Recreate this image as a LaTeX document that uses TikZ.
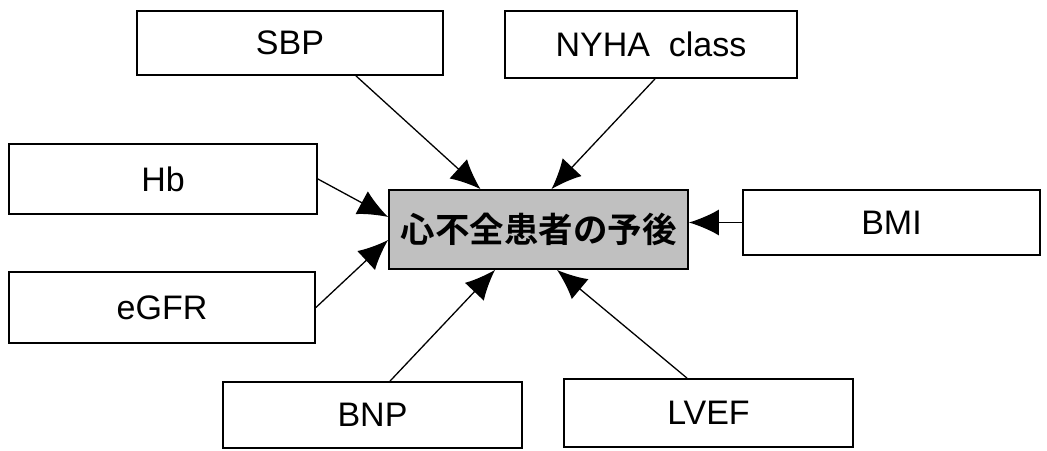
\documentclass[tikz,border=0pt]{standalone}
\usepackage{fontspec}
\setmainfont{Liberation Sans}
\newfontfamily\jpfont{Noto Sans CJK JP}[BoldFont={* Bold}]
\usetikzlibrary{arrows.meta}
\definecolor{boxgray}{RGB}{192,192,192}
\tikzset{
  box/.style={draw=black, line width=1.8pt, fill=white, inner sep=0pt, font=\fontsize{34}{38}\selectfont},
  centerbox/.style={box, fill=boxgray, font=\jpfont\bfseries\fontsize{34.5}{40}\selectfont},
  arr/.style={line width=1.3pt, -{Latex[length=30pt,width=26pt]}, shorten >=0pt}
}
\begin{document}
\begin{tikzpicture}[x=1pt,y=-1pt]
\useasboundingbox (0,0) rectangle (1047,450);
\node[box, minimum width=306pt, minimum height=64pt] (sbp) at (290,43) {SBP};
\node[box, minimum width=292pt, minimum height=67pt] (nyha) at (651,44.5) {NYHA\ \ class};
\node[box, minimum width=308pt, minimum height=70pt] (hb) at (163,179) {Hb};
\node[centerbox, minimum width=299pt, minimum height=79pt] (c) at (538.5,229.5) {心不全患者の予後};
\node[box, minimum width=297pt, minimum height=65pt] (bmi) at (891.5,222.5) {BMI};
\node[box, minimum width=306pt, minimum height=71pt] (egfr) at (162,307.5) {eGFR};
\node[box, minimum width=299pt, minimum height=66pt] (bnp) at (372.5,415) {BNP};
\node[box, minimum width=289pt, minimum height=68pt] (lvef) at (708.5,413) {LVEF};
\draw[arr] ([xshift=66pt]sbp.south) -- ([xshift=-58pt]c.north);
\draw[arr] ([xshift=4pt]nyha.south) -- ([xshift=13pt]c.north);
\draw[arr] (hb.east) -- ([yshift=12.5pt]c.west);
\draw[arr] (egfr.east) -- ([yshift=-10.5pt]c.west);
\draw[arr] (bmi.west) -- (c.east |- bmi.west);
\draw[arr] ([xshift=17.5pt]bnp.north) -- ([xshift=-43.5pt]c.south);
\draw[arr] ([xshift=-21.5pt]lvef.north) -- ([xshift=18.5pt]c.south);
\end{tikzpicture}
\end{document}
